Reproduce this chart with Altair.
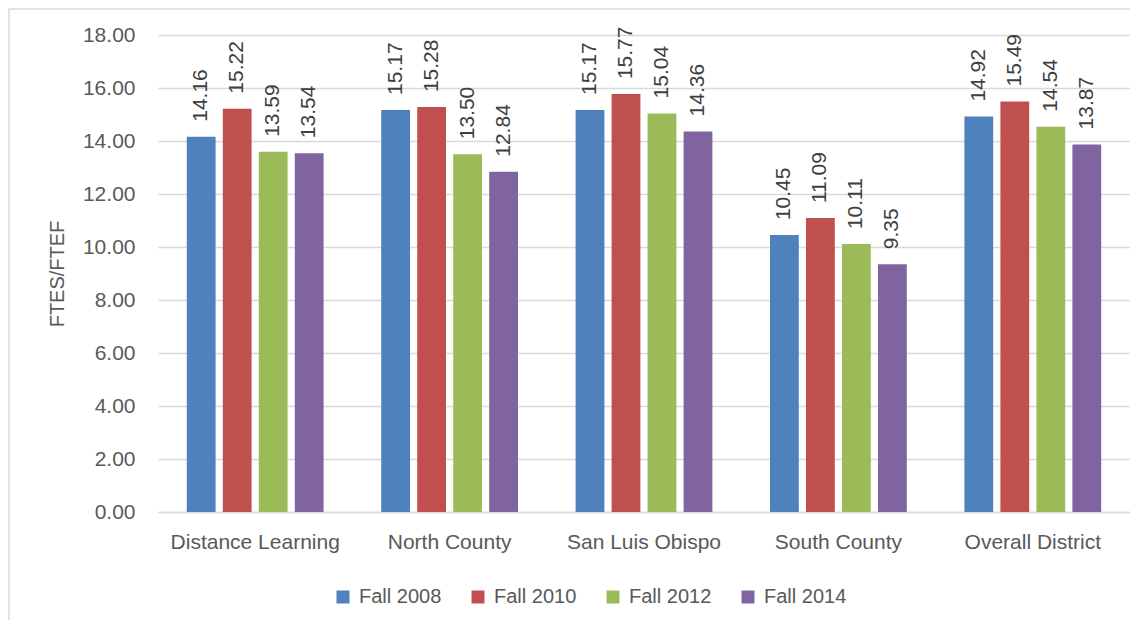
import altair as alt
import pandas as pd

categories = ["Distance Learning", "North County", "San Luis Obispo", "South County", "Overall District"]
series = ["Fall 2008", "Fall 2010", "Fall 2012", "Fall 2014"]
fall_2008 = [14.16, 15.17, 15.17, 10.45, 14.92]
fall_2010 = [15.22, 15.28, 15.77, 11.09, 15.49]
fall_2012 = [13.59, 13.50, 15.04, 10.11, 14.54]
fall_2014 = [13.54, 12.84, 14.36, 9.35, 13.87]
colors = ["#4F81BD", "#C0504D", "#9BBB59", "#8064A2"]
y_ticks = [0, 2, 4, 6, 8, 10, 12, 14, 16, 18]

rows = []
for s, vals in zip(series, [fall_2008, fall_2010, fall_2012, fall_2014]):
    for c, v in zip(categories, vals):
        rows.append({"Campus": c, "Term": s, "Value": v})
df = pd.DataFrame(rows)

FONT = "Liberation Sans"
TXT = "#595959"
GRID = "#d9d9d9"
FS = 21

base = alt.Chart(df).encode(
    x=alt.X(
        "Campus:N",
        sort=categories,
        scale=alt.Scale(paddingInner=0, paddingOuter=0),
        axis=alt.Axis(
            title=None, labelAngle=0, labelFontSize=FS, labelColor=TXT, labelFont=FONT,
            labelPadding=19, ticks=False, tickSize=0, domainColor=GRID, domainWidth=1.5, grid=False,
        ),
    ),
    xOffset=alt.XOffset("Term:N", sort=series, scale=alt.Scale(paddingInner=0.2, paddingOuter=0.8)),
)

bars = base.mark_bar().encode(
    y=alt.Y(
        "Value:Q",
        scale=alt.Scale(domain=[0, 18], nice=False),
        axis=alt.Axis(
            values=y_ticks, format=".2f", title="FTES/FTEF",
            labelFontSize=FS, labelColor=TXT, labelFont=FONT, labelPadding=23,
            domain=False, ticks=False, tickSize=0, gridColor=GRID, gridWidth=1.5,
            titleFontSize=20, titleFontWeight="normal", titleColor=TXT, titleFont=FONT,
            titleX=-101, titleY=238.5, titleAngle=270, titleBaseline="middle", titleAlign="center",
        ),
    ),
    color=alt.Color(
        "Term:N",
        sort=series,
        scale=alt.Scale(domain=series, range=colors),
        legend=alt.Legend(
            title=None, orient="none", legendX=175, legendY=552, direction="horizontal",
            symbolType="square", symbolSize=169, symbolStrokeWidth=0, labelFontSize=20,
            labelColor=TXT, labelFont=FONT, labelOffset=6, columnPadding=26, padding=0,
        ),
    ),
)

labels = base.mark_text(
    angle=270, align="left", baseline="middle", dx=15, fontSize=FS, color="#404040", font=FONT
).encode(
    y=alt.Y("Value:Q"),
    text=alt.Text("Value:Q", format=".2f"),
)

border = alt.Chart(pd.DataFrame({"a": [0]})).mark_rect(
    fillOpacity=0, stroke=GRID, strokeWidth=1.5
).encode(
    x=alt.value(-149), x2=alt.value(1100), y=alt.value(-26), y2=alt.value(700)
)

chart = alt.layer(border, bars, labels).properties(
    width=972,
    height=477,
    autosize=alt.AutoSizeParams(type="none"),
    padding={"left": 150, "top": 27, "right": 0, "bottom": 108},
).configure_view(stroke=None)

chart.save("out.html", embed_options={"renderer": "svg", "actions": False})
